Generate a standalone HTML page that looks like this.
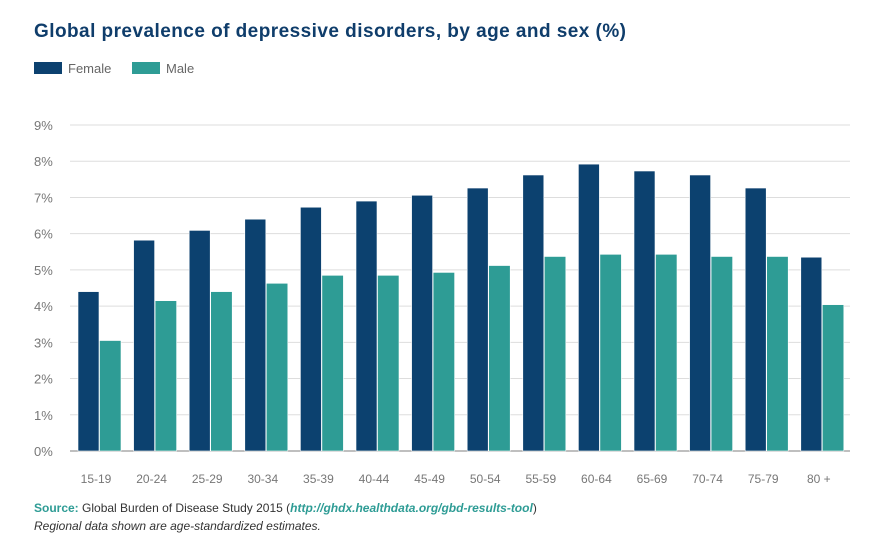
<!DOCTYPE html>
<html><head><meta charset="utf-8"><style>
body{margin:0;background:#fff;font-family:"Liberation Sans",sans-serif;}
#wrap{position:relative;width:893px;height:552px;overflow:hidden;}
</style></head><body>
<div id="wrap">
<svg id="chart" width="893" height="552">
<text x="34" y="37" font-size="19" font-weight="bold" fill="#0f3d6b" textLength="592">Global prevalence of depressive disorders, by age and sex (%)</text>
<g>
<rect x="34" y="62" width="28" height="12" fill="#0c416f"/>
<text x="68" y="73" font-size="13" fill="#666">Female</text>
<rect x="132" y="62" width="28" height="12" fill="#2e9c95"/>
<text x="166" y="73" font-size="13" fill="#666">Male</text>
</g>
<g id="grid"></g><g id="bars"></g><g id="labels"></g>
<text x="34" y="512" font-size="12" fill="#333"><tspan font-weight="bold" fill="#2e9c95">Source:</tspan> Global Burden of Disease Study 2015 (<tspan font-weight="bold" font-style="italic" fill="#2e9c95">http://ghdx.healthdata.org/gbd-results-tool</tspan>)</text>
<text x="34" y="530" font-size="12" font-style="italic" fill="#333">Regional data shown are age-standardized estimates.</text>
</svg></div>
<script>
const categories=["15-19","20-24","25-29","30-34","35-39","40-44","45-49","50-54","55-59","60-64","65-69","70-74","75-79","80 +"];
const female=[4.4,5.82,6.09,6.4,6.73,6.9,7.06,7.26,7.62,7.92,7.73,7.62,7.26,5.35];
const male=[3.05,4.15,4.4,4.63,4.85,4.85,4.93,5.12,5.37,5.43,5.43,5.37,5.37,4.04];
const ticks=[0,1,2,3,4,5,6,7,8,9];
const NS="http://www.w3.org/2000/svg";
const y0=451,y9=125;
function y(v){return y0-(y0-y9)*v/9;}
function x(i){return 99+i*55.6;}
function mk(t,a,p){const e=document.createElementNS(NS,t);for(const k in a)e.setAttribute(k,a[k]);document.getElementById(p).appendChild(e);return e;}
ticks.forEach(t=>{
 const l=mk('line',{x1:70,x2:850,y1:y(t),y2:y(t),stroke:t===0?'#999':'#ddd','stroke-width':t===0?1.2:1},'grid');
 
 
 const tx=mk('text',{x:34,y:y(t)+5,'font-size':13,fill:'#777'},'grid');tx.textContent=t+'%';
 
 
});
categories.forEach((c,i)=>{
 const cx=x(i);
 const f=mk('rect',{x:cx-21,y:y(female[i]),width:21,height:y0-y(female[i]),fill:'#0c416f',stroke:'#fff','stroke-width':0.6},'bars');
 
 
 const m=mk('rect',{x:cx+0.5,y:y(male[i]),width:21.5,height:y0-y(male[i]),fill:'#2e9c95',stroke:'#fff','stroke-width':0.6},'bars');
 
 
 const t=mk('text',{x:cx-3,y:483,'font-size':12,fill:'#777','text-anchor':'middle'},'labels');t.textContent=c;
 
 
});
</script>
</body></html>
